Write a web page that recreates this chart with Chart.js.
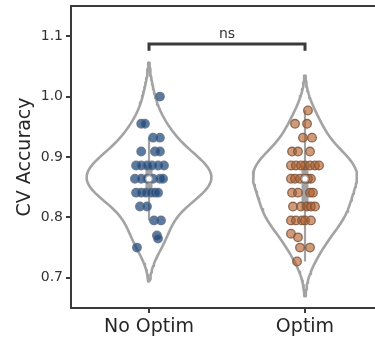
<!DOCTYPE html>
<html>
<head>
<meta charset="utf-8">
<script src="https://cdn.jsdelivr.net/npm/chart.js@4"></script>
<style>
  html, body { margin: 0; padding: 0; background: #fff; overflow: hidden; }
  #wrap { width: 375px; height: 342px; overflow: hidden; position: relative; }
  #violinChart { position: absolute; left: 0; top: 0; }
</style>
</head>
<body>
<div id="wrap"><canvas id="violinChart" width="400" height="342"></canvas></div>
<script>
// ========== DATA ========== //
const groupLabels = ["No Optim", "Optim"];
const yTicks = [0.7, 0.8, 0.9, 1.0, 1.1];
const sigLabel = "ns";

// CV accuracy per fold
const noOptimAcc = [
  1.0,
  0.955, 0.955,
  0.932, 0.932,
  0.909, 0.909, 0.909,
  0.886, 0.886, 0.886, 0.886, 0.886, 0.886,
  0.864, 0.864, 0.864, 0.864, 0.864, 0.864,
  0.841, 0.841, 0.841, 0.841, 0.841, 0.841,
  0.818, 0.818,
  0.795, 0.795,
  0.770, 0.765,
  0.750
];
// strip jitter (category units)
const noOptimJitter = [
  0.07,
  -0.05, -0.026,
  0.026, 0.07,
  -0.05, 0.038, 0.07,
  -0.083, -0.05, -0.013, 0.019, 0.058, 0.096,
  -0.09, -0.05, -0.013, 0.026, 0.07, 0.09,
  -0.083, -0.05, -0.019, 0.013, 0.038, 0.058,
  -0.058, -0.013,
  0.032, 0.077,
  0.051, 0.058,
  -0.077
];

const optimAcc = [
  0.977,
  0.955, 0.955,
  0.932, 0.932,
  0.909, 0.909, 0.909,
  0.886, 0.886, 0.886, 0.886, 0.886, 0.886, 0.886,
  0.864, 0.864, 0.864, 0.864, 0.864, 0.864,
  0.841, 0.841, 0.841, 0.841,
  0.818, 0.818, 0.818, 0.818, 0.818,
  0.795, 0.795, 0.795, 0.795, 0.795,
  0.773, 0.767,
  0.750, 0.750,
  0.727
];
const optimJitter = [
  0.019,
  -0.064, 0.013,
  -0.013, 0.045,
  -0.083, -0.045, 0.032,
  -0.09, -0.058, 0.0, 0.032, 0.064, 0.09, -0.026,
  -0.09, -0.064, -0.032, 0.038, 0.019, 0.0,
  -0.083, -0.045, 0.032, 0.051,
  -0.077, -0.026, 0.013, 0.038, 0.064,
  -0.09, -0.058, -0.019, 0.0, 0.038,
  -0.09, -0.045,
  -0.032, 0.032,
  -0.051
];

const groups = [noOptimAcc, optimAcc];
const jitters = [noOptimJitter, optimJitter];

// ========== HELPERS ========== //
function kde(values) {
  const n = values.length;
  const mean = values.reduce((a, b) => a + b, 0) / n;
  const sd = Math.sqrt(values.reduce((a, v) => a + (v - mean) ** 2, 0) / (n - 1));
  const bw = sd * Math.pow(n, -0.2); // scott
  const lo = Math.min(...values) - 2 * bw;
  const hi = Math.max(...values) + 2 * bw;
  const grid = [], dens = [];
  for (let i = 0; i < 100; i++) {
    const y = lo + (hi - lo) * i / 99;
    let s = 0;
    values.forEach(v => { const z = (y - v) / bw; s += Math.exp(-0.5 * z * z); });
    grid.push(y);
    dens.push(s / (n * bw * Math.sqrt(2 * Math.PI)));
  }
  return { grid, dens };
}

function pct(sorted, p) {
  const idx = (sorted.length - 1) * p;
  const lo = Math.floor(idx), hi = Math.ceil(idx);
  return sorted[lo] + (sorted[hi] - sorted[lo]) * (idx - lo);
}

// ========== BUILD DATASETS ========== //
const kdes = groups.map(kde);
const maxDens = Math.max(...kdes.map(k => Math.max(...k.dens)));
const outlineColor = "#a3a3a3";
const datasets = [];

kdes.forEach((k, i) => {
  const right = k.grid.map((y, j) => ({ x: i + 0.4 * k.dens[j] / maxDens, y }));
  const left = k.grid.map((y, j) => ({ x: i - 0.4 * k.dens[j] / maxDens, y })).reverse();
  const pts = right.concat(left);
  pts.push(pts[0]);
  datasets.push({
    data: pts, showLine: true, pointRadius: 0, borderColor: outlineColor,
    borderWidth: 2.6, borderJoinStyle: "round", order: 6
  });

  const s = [...groups[i]].sort((a, b) => a - b);
  const q1 = pct(s, 0.25), q2 = pct(s, 0.5), q3 = pct(s, 0.75);
  const lim = 1.5 * (q3 - q1);
  const h1 = Math.min(...s.filter(v => v >= q1 - lim));
  const h2 = Math.max(...s.filter(v => v <= q3 + lim));
  datasets.push({
    data: [{ x: i, y: h1 }, { x: i, y: h2 }], showLine: true, pointRadius: 0,
    borderColor: outlineColor, borderWidth: 2.2, order: 5
  });
  datasets.push({
    data: [{ x: i, y: q1 }, { x: i, y: q3 }], showLine: true, pointRadius: 0,
    borderColor: outlineColor, borderWidth: 7, borderCapStyle: "butt", order: 4
  });
  datasets.push({
    data: [{ x: i, y: q2 }], pointRadius: 3.2, pointBackgroundColor: "#fff",
    pointBorderColor: outlineColor, pointBorderWidth: 1.2, order: 1
  });
});

const pointFill = ["rgba(28, 72, 125, 0.72)", "rgba(175, 88, 35, 0.6)"];
const pointEdge = ["rgba(95, 112, 135, 0.85)", "rgba(125, 85, 60, 0.85)"];
groups.forEach((vals, i) => {
  datasets.push({
    data: vals.map((v, j) => ({ x: i + jitters[i][j], y: v })),
    pointRadius: 4.3, pointBackgroundColor: pointFill[i],
    pointBorderColor: pointEdge[i], pointBorderWidth: 1.3, order: 2
  });
});

// significance bracket
const bracketY = 1.087, bracketDrop = 0.011;
datasets.push({
  data: [{ x: 0, y: bracketY - bracketDrop }, { x: 0, y: bracketY },
         { x: 1, y: bracketY }, { x: 1, y: bracketY - bracketDrop }],
  showLine: true, pointRadius: 0, borderColor: "#3a3a3a", borderWidth: 3,
  borderJoinStyle: "miter", clip: false, order: 0
});

// ========== PLUGINS ========== //
const framePlugin = {
  id: "frame",
  afterDatasetsDraw(chart) {
    const { ctx, chartArea, scales } = chart;
    ctx.save();
    ctx.strokeStyle = "#3a3a3a";
    ctx.lineWidth = 2;
    ctx.beginPath();
    ctx.moveTo(chartArea.left, chartArea.top);
    ctx.lineTo(chartArea.right, chartArea.top);
    ctx.lineTo(chartArea.right, chartArea.bottom);
    ctx.stroke();
    ctx.fillStyle = "#333";
    ctx.font = "14px 'DejaVu Sans'";
    ctx.textAlign = "center";
    ctx.textBaseline = "bottom";
    ctx.fillText(sigLabel, scales.x.getPixelForValue(0.5), scales.y.getPixelForValue(bracketY) - 3);
    ctx.restore();
  }
};

// no extra room for edge tick labels
function noEdgePad(s) {
  s.paddingTop = 0; s.paddingBottom = 0; s.paddingLeft = 0; s.paddingRight = 0;
}

// ========== CHART ========== //
Chart.defaults.font.family = "'DejaVu Sans', sans-serif";
Chart.defaults.color = "#333";

new Chart(document.getElementById("violinChart").getContext("2d"), {
  type: "scatter",
  data: { datasets },
  options: {
    responsive: false,
    animation: false,
    layout: { padding: { top: 6, right: 17, left: 0, bottom: 0 } },
    plugins: { legend: { display: false }, tooltip: { enabled: false } },
    scales: {
      x: {
        type: "linear", min: -0.5, max: 1.5,
        afterBuildTicks: s => { s.ticks = groupLabels.map((_, i) => ({ value: i })); },
        afterFit: s => { s.height = 34; noEdgePad(s); },
        grid: { drawOnChartArea: false, drawTicks: true, tickLength: 5, color: "#3a3a3a", lineWidth: 2 },
        border: { display: true, color: "#3a3a3a", width: 2 },
        ticks: { callback: v => groupLabels[v], font: { size: 19 }, color: "#262626", padding: 3, maxRotation: 0 }
      },
      y: {
        min: 0.65, max: 1.15,
        afterBuildTicks: s => { s.ticks = yTicks.map(v => ({ value: v })); },
        afterFit: s => { s.width = 71; noEdgePad(s); },
        grid: { drawOnChartArea: false, drawTicks: true, tickLength: 5, color: "#3a3a3a", lineWidth: 2 },
        border: { display: true, color: "#3a3a3a", width: 2 },
        ticks: { callback: v => v.toFixed(1), font: { size: 14 }, color: "#333", padding: 3 },
        title: { display: true, text: "CV Accuracy", font: { size: 19 }, color: "#262626", padding: { top: 14, bottom: 0 } }
      }
    }
  },
  plugins: [framePlugin]
});
</script>
</body>
</html>
